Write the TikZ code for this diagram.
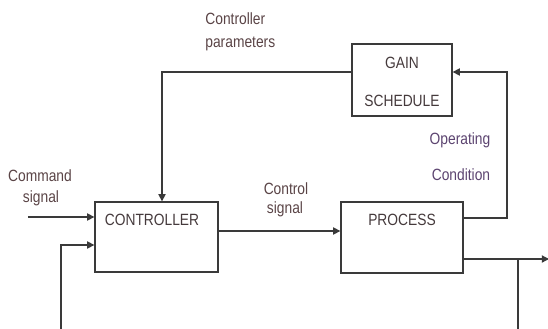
\documentclass[tikz,border=0pt]{standalone}
\usepackage{fontspec}
\usepackage{graphicx}
\setmainfont{Liberation Sans}
\usetikzlibrary{arrows.meta}

\definecolor{wirecol}{HTML}{3A3A3A}
\definecolor{boxtext}{HTML}{453A3C}
\definecolor{sigtext}{HTML}{5A4446}
\definecolor{optext}{HTML}{5C4470}

% slightly tall sans lettering
\newcommand{\talltext}[1]{\scalebox{1}[1.18]{#1}}

\begin{document}
\begin{tikzpicture}[x=0.5pt,y=-0.5pt,
  block/.style={draw=wirecol,line width=0.65pt,rectangle,inner sep=0pt},
  wire/.style={draw=wirecol,line width=0.65pt},
  arrowed/.style={wire,-{Triangle[length=3.6pt,width=3.6pt]}},
  blocklabel/.style={anchor=base,inner sep=0pt,text=boxtext,font=\fontsize{6.9}{8}\selectfont},
  siglabel/.style={anchor=base,inner sep=0pt,text=sigtext,font=\fontsize{6.9}{8}\selectfont},
  oplabel/.style={anchor=base,inner sep=0pt,text=optext,font=\fontsize{6.9}{8}\selectfont}]

\useasboundingbox (0,0) rectangle (548,328);

% blocks
\node[block,minimum width=50pt,minimum height=36pt] (gain) at (402,80) {};
\node[block,minimum width=61.5pt,minimum height=35pt] (ctrl) at (156.5,237) {};
\node[block,minimum width=61pt,minimum height=35.5pt] (proc) at (402,237.5) {};

% block texts
\node[blocklabel] (gainA) at (402,68) {\talltext{GAIN}};
\node[blocklabel] (gainB) at (402,106) {\talltext{SCHEDULE}};
\node[blocklabel] (ctrlT) at (152,225) {\talltext{CONTROLLER}};
\node[blocklabel] (procT) at (402,225) {\talltext{PROCESS}};

% signal labels
\node[siglabel,anchor=base west] (parA) at (205,24) {\talltext{Controller}};
\node[siglabel,anchor=base west] (parB) at (205,47) {\talltext{parameters}};
\node[oplabel] (opA) at (460,144) {\talltext{Operating}};
\node[oplabel] (opB) at (461,180) {\talltext{Condition}};
\node[siglabel] (cmdA) at (40,181) {\talltext{Command}};
\node[siglabel] (cmdB) at (41,202) {\talltext{signal}};
\node[siglabel] (csA) at (286,194) {\talltext{Control}};
\node[siglabel] (csB) at (285,213) {\talltext{signal}};

% routing points
\coordinate (parTurn) at (162,72);
\coordinate (opTurn) at (507,218);
\coordinate (cmdStart) at (28,217);
\coordinate (fbBottom) at (61,330);
\coordinate (fbTurn) at (61,245);
\coordinate (tap) at (518,259);
\coordinate (outEnd) at (549,259);
\coordinate (csLevel) at (0,231);

% controller parameters from the gain schedule
\draw[arrowed] (gain.west |- parTurn) -- (parTurn) -- (parTurn |- ctrl.north);
% operating condition back to the gain schedule
\draw[arrowed] (proc.east |- opTurn) -- (opTurn) |- (gain.east |- parTurn);
% command signal
\draw[arrowed] (cmdStart) -- (ctrl.west |- cmdStart);
% control signal
\draw[arrowed] (ctrl.east |- csLevel) -- (proc.west |- csLevel);
% plant output
\draw[arrowed] (proc.east |- outEnd) -- (outEnd);
% feedback path
\draw[wire] (tap) -- (tap |- fbBottom);
\draw[arrowed] (fbBottom) -- (fbTurn) -- (ctrl.west |- fbTurn);

\end{tikzpicture}
\end{document}
